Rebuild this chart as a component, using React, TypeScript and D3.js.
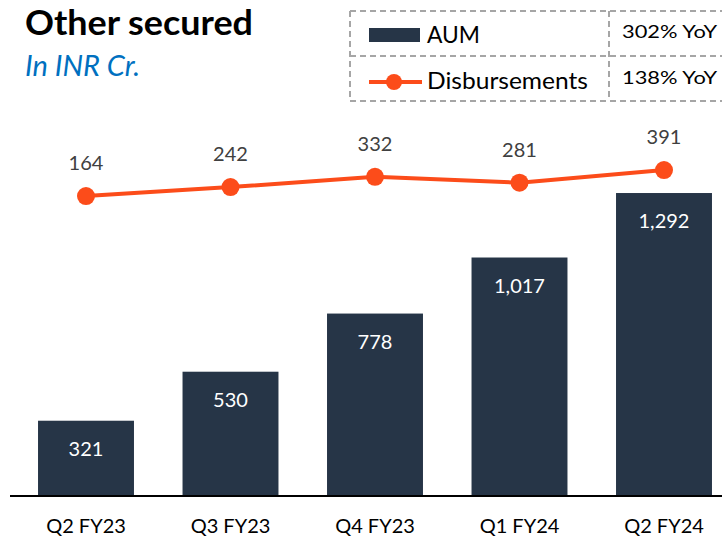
import React from "react";
import * as d3 from "d3";

const categories = ["Q2 FY23", "Q3 FY23", "Q4 FY23", "Q1 FY24", "Q2 FY24"];
const aum = [321, 530, 778, 1017, 1292];
const disbursements = [164, 242, 332, 281, 391];
const aumLabels = ["321", "530", "778", "1,017", "1,292"];
const disbLabels = ["164", "242", "332", "281", "391"];
const legendItems = ["AUM", "Disbursements"];
const yoyLabels = ["302% YoY", "138% YoY"];

const W = 722;
const H = 537;
const FONT = "Lato, 'Open Sans', sans-serif";
const BAR = "#263547";
const LINE = "#FC4C1A";

export default function App() {
  const x = d3
    .scaleBand<string>()
    .domain(categories)
    .range([13.75, 736.25])
    .paddingInner(0.336)
    .paddingOuter(0.168);
  const baseY = 496;
  const yBar = d3.scaleLinear().domain([0, 1400]).range([baseY, baseY - 1400 * 0.2345]);
  const yLine = d3.scaleLinear().domain([0, 400]).range([214.8, 214.8 - 400 * 0.1145]);

  const lineGen = d3
    .line<number>()
    .x((_, i) => (x(categories[i]) as number) + x.bandwidth() / 2)
    .y((d) => yLine(d));

  return (
    <svg
      width={W}
      height={H}
      style={{ position: "absolute", left: 0, top: 0, background: "#fff" }}
      fontFamily={FONT}
    >
      <rect width={W} height={H} fill="#fff" />
      <text x={25} y={35} fontSize={35} fontWeight={700} fill="#000" textLength={228} lengthAdjust="spacingAndGlyphs">
        Other secured
      </text>
      <text x={25} y={76} fontSize={29} fontStyle="italic" fill="#0070C0">
        In INR Cr.
      </text>

      {/* legend box */}
      <g stroke="#a6a6a6" strokeWidth={2} strokeDasharray="6,4" fill="none">
        <line x1={350} y1={11} x2={722} y2={11} />
        <line x1={350} y1={56} x2={722} y2={56} />
        <line x1={350} y1={101} x2={722} y2={101} />
        <line x1={350} y1={11} x2={350} y2={101} />
        <line x1={609} y1={11} x2={609} y2={101} />
      </g>
      <rect x={369} y={28} width={51} height={14} fill={BAR} />
      <text x={427} y={43} fontSize={23} fill="#000" textLength={53} lengthAdjust="spacingAndGlyphs">
        {legendItems[0]}
      </text>
      <line x1={369} y1={82} x2={422} y2={82} stroke={LINE} strokeWidth={4} />
      <circle cx={394} cy={82} r={8} fill={LINE} />
      <text x={427} y={89} fontSize={23} fill="#000" textLength={161} lengthAdjust="spacingAndGlyphs">
        {legendItems[1]}
      </text>
      <text x={622} y={38} fontSize={18} fill="#000" textLength={95} lengthAdjust="spacingAndGlyphs">
        {yoyLabels[0]}
      </text>
      <text x={622} y={84} fontSize={18} fill="#000" textLength={95} lengthAdjust="spacingAndGlyphs">
        {yoyLabels[1]}
      </text>

      {/* bars */}
      {aum.map((v, i) => {
        const bx = x(categories[i]) as number;
        return (
          <g key={categories[i]}>
            <rect x={bx} y={yBar(v)} width={x.bandwidth()} height={baseY - yBar(v)} fill={BAR} />
            <text
              x={bx + x.bandwidth() / 2}
              y={yBar(v) + 35}
              fontSize={20}
              fill="#fff"
              textAnchor="middle"
            >
              {aumLabels[i]}
            </text>
            <text
              x={bx + x.bandwidth() / 2}
              y={533}
              fontSize={20}
              fill="#000"
              textAnchor="middle"
            >
              {categories[i]}
            </text>
          </g>
        );
      })}
      <line x1={10} y1={baseY} x2={722} y2={baseY} stroke="#000" strokeWidth={2} />

      {/* line */}
      <path d={lineGen(disbursements) || ""} fill="none" stroke={LINE} strokeWidth={4} />
      {disbursements.map((v, i) => {
        const cx = (x(categories[i]) as number) + x.bandwidth() / 2;
        return (
          <g key={"d" + i}>
            <circle cx={cx} cy={yLine(v)} r={9} fill={LINE} />
            <text x={cx} y={yLine(v) - 26} fontSize={20} fill="#404040" textAnchor="middle">
              {disbLabels[i]}
            </text>
          </g>
        );
      })}
    </svg>
  );
}
